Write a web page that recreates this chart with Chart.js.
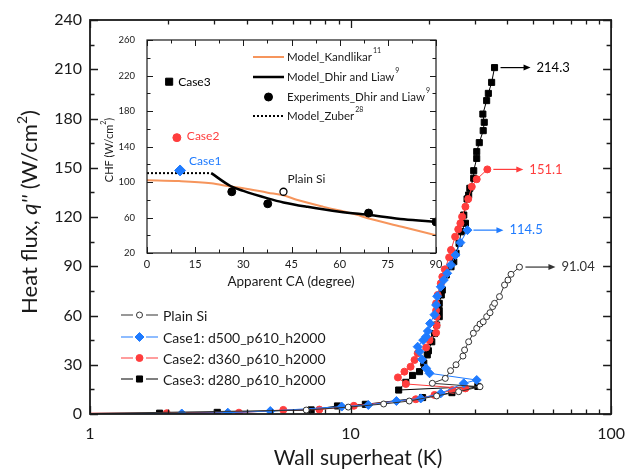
<!DOCTYPE html>
<html>
<head>
<meta charset="utf-8">
<script src="https://cdn.jsdelivr.net/npm/chart.js@4.4.1/dist/chart.umd.min.js"></script>
<style>
  html, body { margin: 0; padding: 0; background: #fff; }
  #wrap { position: relative; width: 635px; height: 472px; }
  #wrap canvas { position: absolute; left: 0; top: 0; }
</style>
</head>
<body>
<div id="wrap">
  <canvas id="mainChart" width="635" height="472"></canvas>
  <canvas id="insetChart" width="635" height="472"></canvas>
</div>
<script>
const FONT = "Lato, 'Open Sans', sans-serif";
const BLUE = '#1f7bff';
const RED = '#ff3d3d';
const ORANGE = '#f6955c';
const INK = '#1a1a1a';

// ---- main chart: wall superheat (K) vs heat flux (W/cm2) ----
const plainSiX = [1, 6.76, 9.8, 13.4, 16.8, 21.4, 26.0, 31.4, 20.6, 23.1, 24.2, 25.4, 27.0, 27.4, 28.4, 29.6, 30.5, 31.4, 32.3, 33.3, 34.3, 35.1, 35.7, 37.3, 39.0, 40.2, 41.3, 44.5];
const plainSiY = [0.3, 2.4, 4.2, 6.1, 7.9, 11.0, 13.6, 16.6, 18.7, 21.7, 26.4, 30.0, 35.3, 39.0, 44.0, 49.2, 52.2, 54.8, 56.2, 59.3, 61.7, 65.4, 67.4, 71.5, 78.6, 81.6, 85.1, 89.5];

const case1X = [1, 2.25, 3.38, 4.92, 9.25, 11.7, 15.0, 18.6, 22.2, 27.2, 30.5, 20.1, 19.5, 18.8, 18.4, 18.1, 19.0, 19.5, 19.8, 20.2, 21.0, 21.3, 21.5, 22.2, 22.8, 23.5, 24.3, 25.3, 26.4, 28.1];
const case1Y = [0.3, 0.3, 0.8, 1.8, 4.5, 5.5, 7.9, 9.5, 12.6, 18.7, 20.7, 24.8, 27.8, 33.3, 38.0, 41.0, 45.0, 47.1, 50.5, 55.2, 60.5, 66.4, 71.7, 77.5, 81.6, 85.7, 90.8, 96.9, 104.4, 112.0];

const case2X = [1, 1.97, 3.73, 5.52, 7.59, 10.3, 17.8, 21.0, 24.6, 27.6, 16.3, 15.2, 16.1, 17.0, 17.6, 18.1, 19.5, 20.1, 21.3, 21.4, 21.4, 21.3, 21.3, 21.6, 22.2, 22.5, 23.0, 23.9, 24.3, 25.2, 25.9, 26.4, 26.8, 27.6, 28.3, 29.2, 30.5, 33.5];
const case2Y = [0.5, 0.5, 0.8, 2.5, 2.7, 5.0, 9.0, 11.6, 14.6, 15.6, 18.3, 22.3, 25.8, 28.8, 32.9, 37.0, 40.5, 45.0, 49.5, 54.0, 59.3, 63.0, 67.4, 72.5, 79.6, 83.6, 88.1, 95.4, 99.9, 108.0, 112.5, 116.2, 120.2, 126.3, 131.0, 138.5, 143.0, 149.0];

const case3X = [1, 1.85, 3.08, 7.06, 8.91, 11.4, 18.9, 24.5, 30.8, 15.3, 16.3, 17.3, 18.4, 19.1, 19.7, 19.9, 20.5, 21.0, 21.4, 21.9, 21.9, 21.9, 22.3, 22.5, 23.3, 24.3, 24.9, 25.4, 26.1, 26.6, 27.6, 27.2, 28.0, 28.4, 28.7, 29.7, 29.7, 30.5, 30.5, 31.2, 32.3, 32.6, 32.2, 33.3, 33.8, 34.8, 35.7];
const case3Y = [0.3, 0.5, 1.0, 2.5, 4.9, 5.9, 10.0, 13.0, 16.8, 14.6, 19.3, 23.5, 25.8, 31.0, 36.0, 38.5, 44.0, 49.0, 54.2, 59.3, 63.0, 67.4, 72.5, 75.5, 84.7, 89.7, 92.8, 97.9, 104.0, 111.0, 116.2, 121.2, 131.0, 133.4, 137.5, 143.6, 148.2, 155.7, 159.8, 165.3, 172.6, 177.7, 182.7, 190.9, 195.3, 202.0, 211.0];

const legendNames = ['Plain Si', 'Case1: d500_p610_h2000', 'Case2: d360_p610_h2000', 'Case3: d280_p610_h2000'];
const peakLabels = ['91.04', '114.5', '151.1', '214.3'];
const mainXTicks = [1, 10, 100];

// ---- inset: apparent contact angle (deg) vs CHF (W/cm2) ----
const kandlikarCA = [0, 10, 20, 26, 30, 37.6, 42.5, 46.6, 55, 63.7, 70, 80, 90];
const kandlikarCHF = [102, 101, 98.5, 95, 93, 88, 85, 80, 72, 64.7, 58, 49, 40];
const dhirCA = [20, 26, 30, 37.6, 42.5, 50, 60, 70, 80, 90];
const dhirCHF = [110, 95.5, 90, 81.6, 77, 72, 66.5, 62.5, 58, 55];
const zuberCA = [0, 20];
const zuberCHF = [110, 110];
const expCA = [26.4, 37.6, 69, 90];
const expCHF = [89, 75.5, 65, 55];
const caseNames = ['Case3', 'Case2', 'Case1'];
const caseCA = [6.9, 9.3, 10.3];
const caseCHF = [213, 150, 113];
const plainCA = [42.5];
const plainCHF = [89];

function pts(xs, ys) {
  return xs.map((x, i) => ({ x: x, y: ys[i] }));
}

function arrow(ctx, x0, x1, y, color) {
  ctx.save();
  ctx.strokeStyle = color;
  ctx.fillStyle = color;
  ctx.lineWidth = 1.2;
  ctx.beginPath();
  ctx.moveTo(x0, y);
  ctx.lineTo(x1 - 5, y);
  ctx.stroke();
  ctx.beginPath();
  ctx.moveTo(x1, y);
  ctx.lineTo(x1 - 7, y - 3);
  ctx.lineTo(x1 - 7, y + 3);
  ctx.closePath();
  ctx.fill();
  ctx.restore();
}

function marker(ctx, style, r, x, y, fill, stroke) {
  ctx.save();
  ctx.fillStyle = fill;
  ctx.strokeStyle = stroke;
  ctx.lineWidth = 1;
  Chart.helpers.drawPoint(ctx, { pointStyle: style, radius: r, rotation: 0, borderWidth: 1 }, x, y);
  ctx.restore();
}

// frame with inward ticks on all four sides
function frameTicks(spec) {
  return {
    id: 'frameTicks',
    afterDraw(chart) {
      const ctx = chart.ctx;
      const a = chart.chartArea;
      const sx = chart.scales.x;
      const sy = chart.scales.y;
      ctx.save();
      ctx.strokeStyle = INK;
      ctx.lineWidth = spec.tickWidth;
      ctx.beginPath();
      const xs = (vals, len) => vals.forEach(v => {
        const p = Math.round(sx.getPixelForValue(v)) + 0.5;
        ctx.moveTo(p, a.bottom); ctx.lineTo(p, a.bottom - len);
        ctx.moveTo(p, a.top); ctx.lineTo(p, a.top + len);
      });
      const ys = (vals, len) => vals.forEach(v => {
        const p = Math.round(sy.getPixelForValue(v)) + 0.5;
        ctx.moveTo(a.left, p); ctx.lineTo(a.left + len, p);
        ctx.moveTo(a.right, p); ctx.lineTo(a.right - len, p);
      });
      xs(spec.xMajor, spec.major);
      xs(spec.xMinor, spec.minor);
      ys(spec.yMajor, spec.major);
      ys(spec.yMinor, spec.minor);
      ctx.stroke();
      ctx.lineWidth = spec.frameWidth;
      ctx.strokeRect(a.left, a.top, a.right - a.left, a.bottom - a.top);
      ctx.restore();
      if (spec.extra) spec.extra(chart);
    }
  };
}

function range(start, end, step) {
  const out = [];
  for (let v = start; v <= end + 1e-9; v += step) out.push(v);
  return out;
}

const logMinor = [];
[1, 10].forEach(d => { for (let m = 2; m <= 9; m++) logMinor.push(m * d); });

function drawRich(ctx, parts, cx, cy, rotate) {
  ctx.save();
  ctx.translate(cx, cy);
  if (rotate) ctx.rotate(-Math.PI / 2);
  ctx.textBaseline = 'middle';
  ctx.textAlign = 'left';
  let total = 0;
  parts.forEach(p => { ctx.font = p.font; p.w = ctx.measureText(p.t).width; total += p.w; });
  let x = -total / 2;
  parts.forEach(p => {
    ctx.font = p.font;
    ctx.fillStyle = INK;
    ctx.fillText(p.t, x, p.dy || 0);
    x += p.w;
  });
  ctx.restore();
}

const mainSeries = [
  { xs: plainSiX, ys: plainSiY, color: '#333333', style: 'circle', r: 3, fill: '#ffffff' },
  { xs: case1X, ys: case1Y, color: BLUE, style: 'rectRot', r: 4.5, fill: BLUE },
  { xs: case2X, ys: case2Y, color: RED, style: 'circle', r: 3.5, fill: RED },
  { xs: case3X, ys: case3Y, color: '#000000', style: 'rect', r: 4.3, fill: '#000000' }
];

function mainExtras(chart) {
  const ctx = chart.ctx;
  const sx = chart.scales.x;
  const sy = chart.scales.y;
  // axis titles
  drawRich(ctx, [{ t: 'Wall superheat (K)', font: '21px ' + FONT }], 358, 458, false);
  drawRich(ctx, [
    { t: 'Heat flux, ', font: '22px ' + FONT },
    { t: "q''", font: 'italic 22px ' + FONT },
    { t: ' (W/cm', font: '22px ' + FONT },
    { t: '2', font: '14px ' + FONT, dy: -8 },
    { t: ')', font: '22px ' + FONT }
  ], 30, 212, true);
  // legend
  const rows = [315, 337, 358, 379];
  mainSeries.forEach((s, i) => {
    const y = rows[i];
    ctx.save();
    ctx.strokeStyle = s.color;
    ctx.lineWidth = 1.2;
    ctx.beginPath();
    ctx.moveTo(121, y); ctx.lineTo(133, y);
    ctx.moveTo(146, y); ctx.lineTo(158, y);
    ctx.stroke();
    ctx.restore();
    marker(ctx, s.style, s.r, 139.5, y, s.fill, s.color);
    ctx.save();
    ctx.font = '14px ' + FONT;
    ctx.fillStyle = INK;
    ctx.textBaseline = 'middle';
    ctx.fillText(legendNames[i], 163, y + 1);
    ctx.restore();
  });
  // peak annotations
  const peakColors = ['#333333', BLUE, RED, '#000000'];
  mainSeries.forEach((s, i) => {
    const n = s.xs.length - 1;
    const px = sx.getPixelForValue(s.xs[n]);
    const py = sy.getPixelForValue(s.ys[n]);
    arrow(ctx, px + 6, px + 36, py, peakColors[i]);
    ctx.save();
    ctx.font = '13px ' + FONT;
    ctx.fillStyle = peakColors[i];
    ctx.textBaseline = 'middle';
    ctx.fillText(peakLabels[i], px + 42, py);
    ctx.restore();
  });
}

const tickFont = { family: FONT, size: 16 };

new Chart(document.getElementById('mainChart'), {
  type: 'scatter',
  data: {
    datasets: mainSeries.map((s, i) => ({
      data: pts(s.xs, s.ys),
      showLine: true,
      borderColor: s.color,
      borderWidth: 1,
      pointStyle: s.style,
      pointRadius: c => (c.dataIndex === 0 ? 0 : s.r),
      pointBackgroundColor: s.fill,
      pointBorderColor: s.color,
      pointBorderWidth: 1,
      order: i
    }))
  },
  options: {
    responsive: false,
    animation: false,
    events: [],
    layout: { padding: { left: 0, top: 20, right: 15, bottom: 0 } },
    plugins: { legend: { display: false }, tooltip: { enabled: false } },
    scales: {
      x: {
        type: 'logarithmic', min: 1, max: 100,
        afterBuildTicks: s => { s.ticks = mainXTicks.map(v => ({ value: v })); },
        afterFit: s => { s.height = 58; },
        grid: { display: false, drawTicks: false },
        border: { display: false },
        ticks: { padding: 10, color: INK, font: tickFont, autoSkip: false, maxRotation: 0, callback: v => String(v) }
      },
      y: {
        min: 0, max: 240,
        afterFit: s => { s.width = 90; },
        grid: { display: false, drawTicks: false },
        border: { display: false },
        ticks: { stepSize: 30, padding: 8, color: INK, font: tickFont }
      }
    }
  },
  plugins: [frameTicks({
    xMajor: mainXTicks, xMinor: logMinor,
    yMajor: range(0, 240, 30), yMinor: range(15, 225, 30),
    major: 8, minor: 4.5, tickWidth: 1.3, frameWidth: 1.8,
    extra: mainExtras
  })]
});

// ---- inset ----
function insetExtras(chart) {
  const ctx = chart.ctx;
  const sx = chart.scales.x;
  const sy = chart.scales.y;
  drawRich(ctx, [{ t: 'Apparent CA (degree)', font: '13.5px ' + FONT }], 291, 282, false);
  drawRich(ctx, [
    { t: 'CHF (W/cm', font: '11px ' + FONT },
    { t: '2', font: '7px ' + FONT, dy: -5 },
    { t: ')', font: '11px ' + FONT }
  ], 109, 150, true);
  // point labels
  const labelColors = ['#000000', RED, BLUE];
  const offs = [[9, 0], [10, -2], [9, -9]];
  ctx.save();
  ctx.font = '12px ' + FONT;
  ctx.textBaseline = 'middle';
  caseNames.forEach((name, i) => {
    ctx.fillStyle = labelColors[i];
    ctx.fillText(name, sx.getPixelForValue(caseCA[i]) + offs[i][0], sy.getPixelForValue(caseCHF[i]) + offs[i][1]);
  });
  ctx.fillStyle = INK;
  ctx.fillText('Plain Si', sx.getPixelForValue(plainCA[0]) + 4, sy.getPixelForValue(plainCHF[0]) - 13);
  ctx.restore();
  // legend
  const rows = [57, 77, 97, 116];
  const names = [['Model_Kandlikar', '11'], ['Model_Dhir and Liaw', '9'], ['Experiments_Dhir and Liaw', '9'], ['Model_Zuber', '28']];
  ctx.save();
  ctx.lineWidth = 2;
  ctx.strokeStyle = ORANGE;
  ctx.beginPath(); ctx.moveTo(253, rows[0]); ctx.lineTo(284, rows[0]); ctx.stroke();
  ctx.lineWidth = 2.5;
  ctx.strokeStyle = '#000';
  ctx.beginPath(); ctx.moveTo(253, rows[1]); ctx.lineTo(284, rows[1]); ctx.stroke();
  ctx.lineWidth = 2;
  ctx.setLineDash([2, 2]);
  ctx.beginPath(); ctx.moveTo(253, rows[3]); ctx.lineTo(284, rows[3]); ctx.stroke();
  ctx.setLineDash([]);
  ctx.restore();
  marker(ctx, 'circle', 4, 268.5, rows[2], '#000', '#000');
  ctx.save();
  ctx.textBaseline = 'middle';
  ctx.fillStyle = INK;
  names.forEach((n, i) => {
    ctx.font = '11.5px ' + FONT;
    ctx.fillText(n[0], 287, rows[i]);
    const w = ctx.measureText(n[0]).width;
    ctx.font = '7px ' + FONT;
    ctx.fillText(n[1], 287 + w + 1, rows[i] - 6);
  });
  ctx.restore();
}

const insetTickX = { family: FONT, size: 11 };
const insetTickY = { family: FONT, size: 9.5 };

new Chart(document.getElementById('insetChart'), {
  type: 'scatter',
  data: {
    datasets: [
      { data: pts(kandlikarCA, kandlikarCHF), showLine: true, borderColor: ORANGE, borderWidth: 2, pointRadius: 0, cubicInterpolationMode: 'monotone', order: 4 },
      { data: pts(dhirCA, dhirCHF), showLine: true, borderColor: '#000', borderWidth: 2.5, pointRadius: 0, cubicInterpolationMode: 'monotone', order: 3 },
      { data: pts(zuberCA, zuberCHF), showLine: true, borderColor: '#000', borderWidth: 2, borderDash: [2, 2], pointRadius: 0, order: 5 },
      { data: pts(expCA, expCHF), showLine: false, pointStyle: 'circle', pointRadius: 4, pointBackgroundColor: '#000', pointBorderColor: '#000', order: 1 },
      { data: pts(plainCA, plainCHF), showLine: false, pointStyle: 'circle', pointRadius: 3.5, pointBackgroundColor: '#fff', pointBorderColor: '#000', pointBorderWidth: 1.3, order: 0 },
      { data: pts(caseCA, caseCHF), showLine: false, pointStyle: ['rect', 'circle', 'rectRot'], pointRadius: [5, 4, 5.5], pointBackgroundColor: ['#000', RED, BLUE], pointBorderColor: ['#000', RED, BLUE], order: 0 }
    ]
  },
  options: {
    responsive: false,
    animation: false,
    events: [],
    layout: { padding: { left: 100, top: 40, right: 199, bottom: 0 } },
    plugins: { legend: { display: false }, tooltip: { enabled: false } },
    scales: {
      x: {
        min: 0, max: 90,
        afterFit: s => { s.height = 219; },
        grid: { display: false, drawTicks: false },
        border: { display: false },
        ticks: { stepSize: 15, padding: 5, color: INK, font: insetTickX, autoSkip: false, maxRotation: 0 }
      },
      y: {
        min: 20, max: 260,
        afterFit: s => { s.width = 47; },
        grid: { display: false, drawTicks: false },
        border: { display: false },
        ticks: { stepSize: 40, padding: 12, color: INK, font: insetTickY }
      }
    }
  },
  plugins: [frameTicks({
    xMajor: range(0, 90, 15), xMinor: range(7.5, 82.5, 15),
    yMajor: range(20, 260, 40), yMinor: range(40, 240, 40),
    major: 6, minor: 3.5, tickWidth: 1, frameWidth: 1.2,
    extra: insetExtras
  })]
});
</script>
</body>
</html>
